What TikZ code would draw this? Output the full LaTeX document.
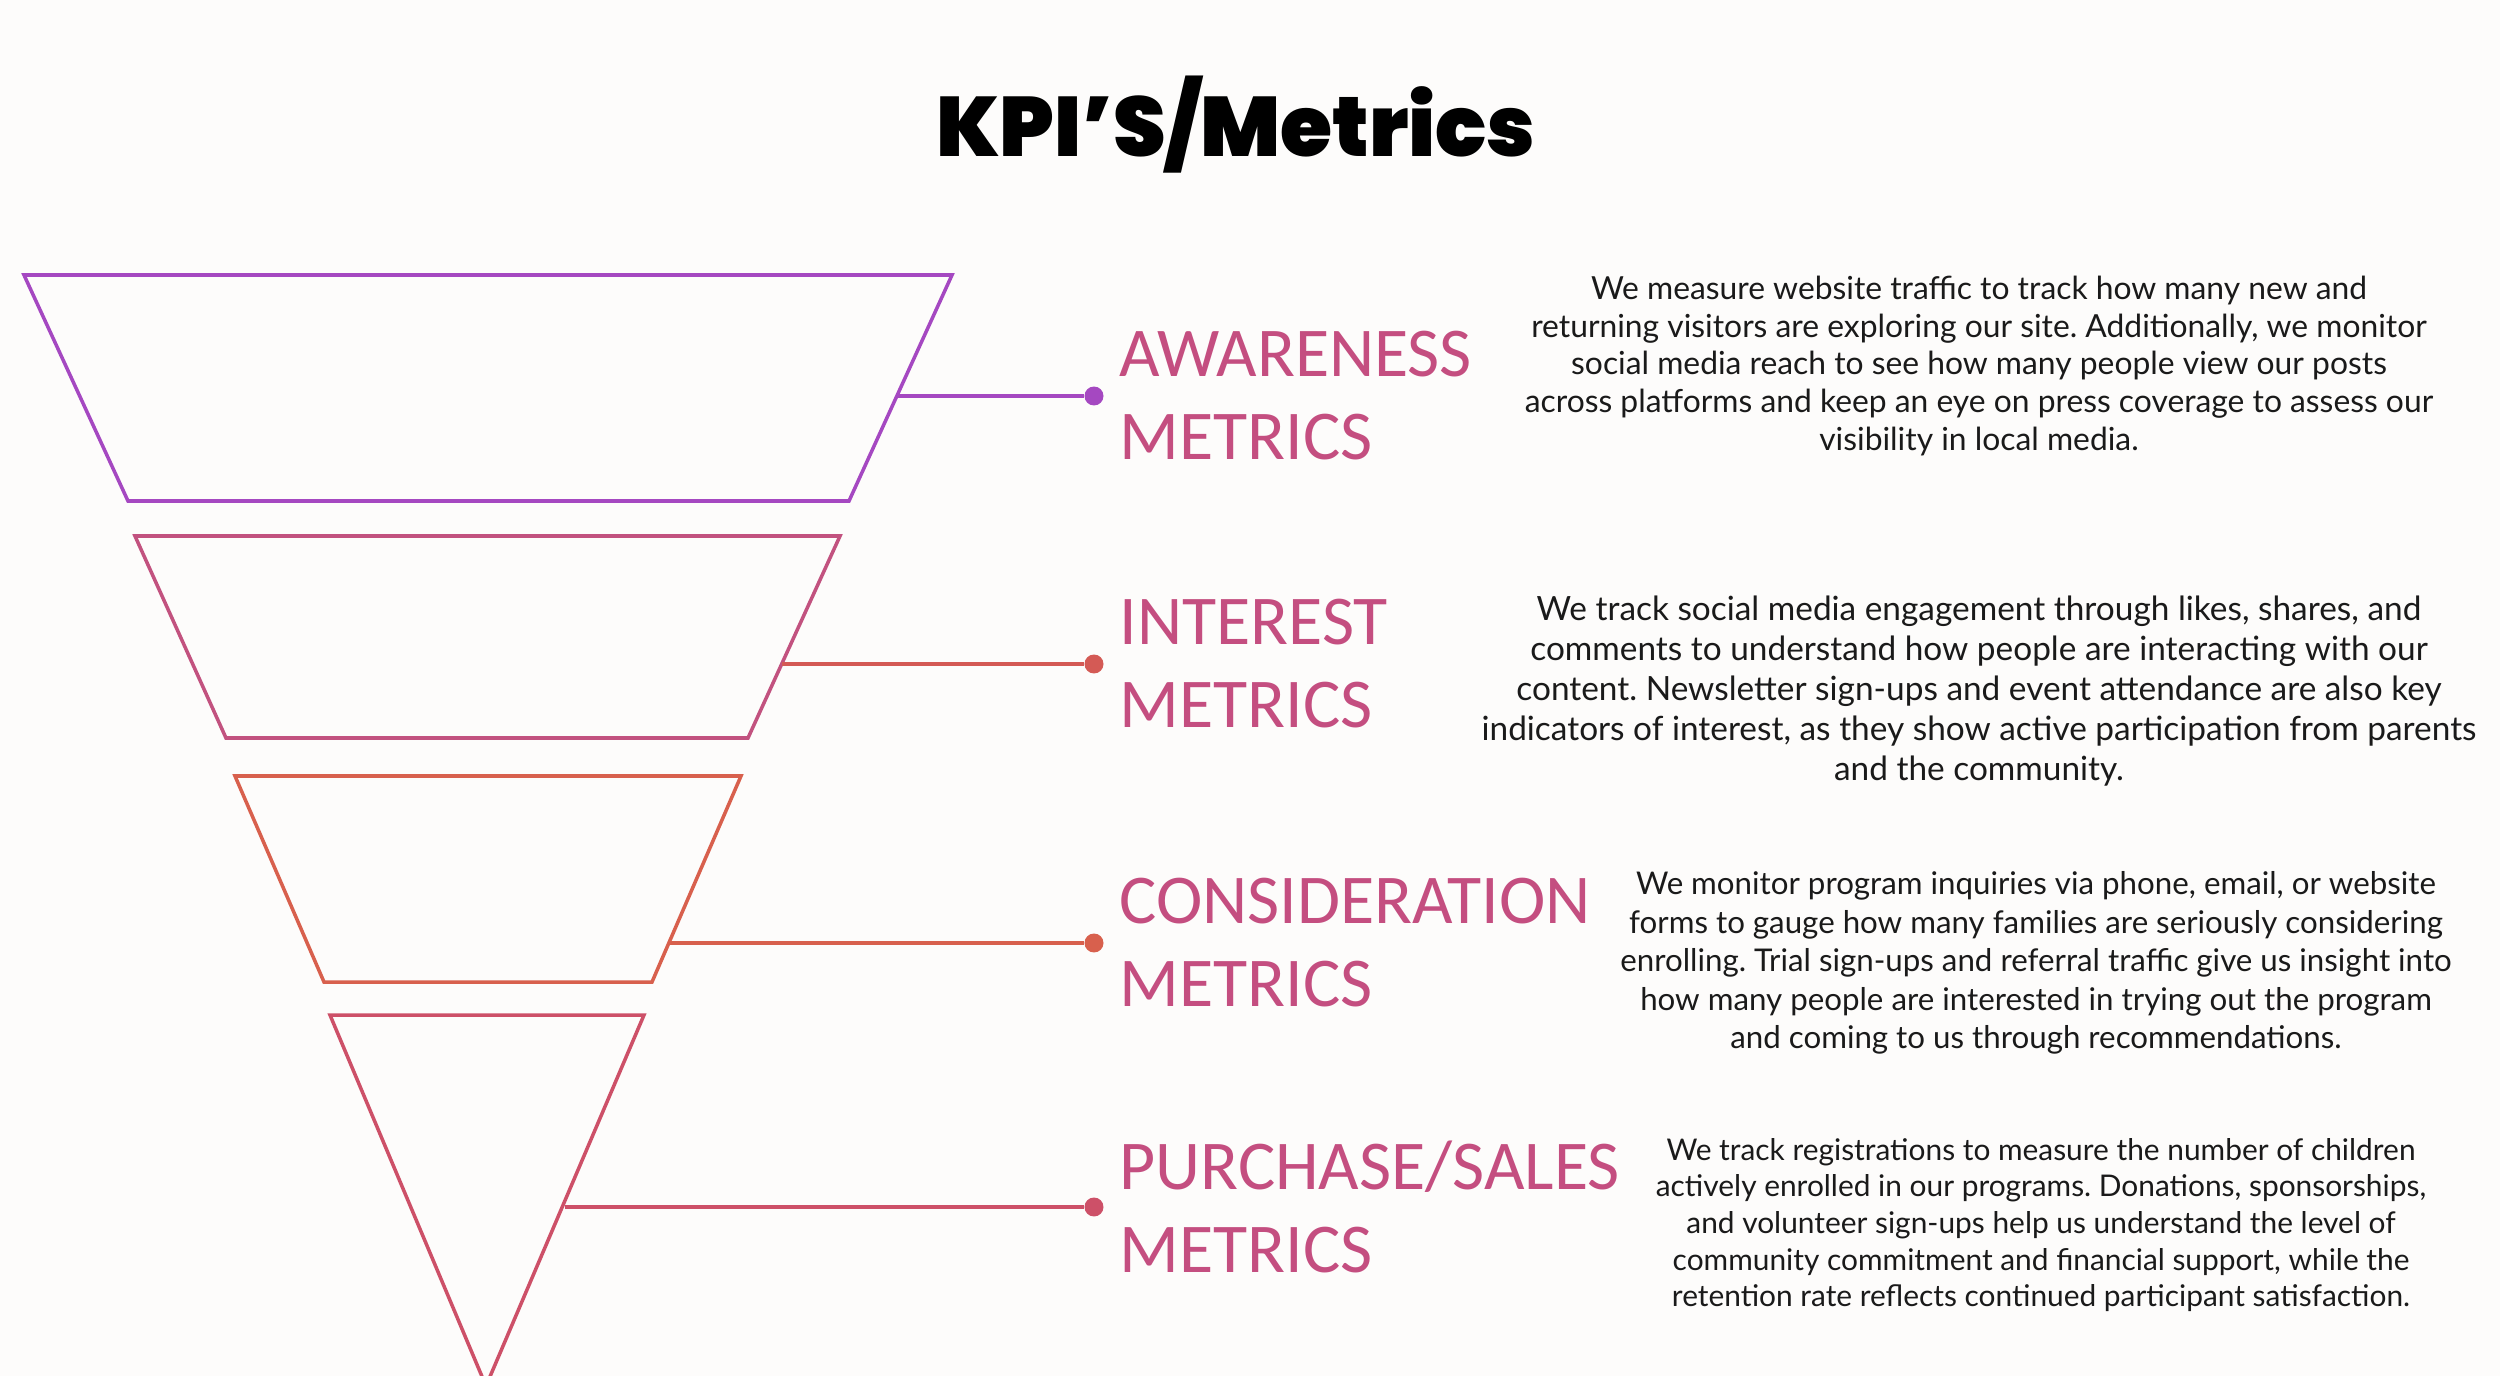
\documentclass[tikz,border=0pt]{standalone}
\usepackage{fontspec}
\usetikzlibrary{positioning}

\setmainfont{Lato}
\newfontfamily\labelfont{Carlito}
\newfontfamily\titlefont{Poppins Black}
\frenchspacing

\definecolor{bgcol}{HTML}{FDFCFB}
\definecolor{textcol}{HTML}{1A1A1A}
\definecolor{labelcol}{HTML}{C44E80}
\definecolor{awcol}{HTML}{A548C1}
\definecolor{intrapcol}{HTML}{C2527F}
\definecolor{incol}{HTML}{D45A55}
\definecolor{cocol}{HTML}{D8604D}
\definecolor{pucol}{HTML}{CD5068}

\begin{document}
\begin{tikzpicture}[x=0.1mm, y=-0.1mm,
    funnel/.style={line width=1pt, line join=miter},
    link/.style={line width=0.9pt},
    dot/.style={circle, fill, inner sep=0pt, minimum size=5.4pt},
    stage/.style={font=\labelfont\fontsize{19.9}{23.6}\selectfont, text=labelcol,
        align=left, inner sep=0pt, anchor=west},
    desc/.style={text=textcol, align=center, inner sep=0pt}]

    % page
    \fill[bgcol] (0,0) rectangle (2500,1376);
    \clip (0,0) rectangle (2500,1376);

    % title
    \node[font=\titlefont\fontsize{24}{28}\selectfont, anchor=base] (title)
        at (1236,157) {KPI’S/Metrics};

    % funnel pieces, widest on top
    \draw[funnel, awcol] (24,275) -- (952,275) -- (849,501) -- (128,501) -- cycle;
    \draw[funnel, intrapcol] (135,536) -- (840,536) -- (748,738) -- (226,738) -- cycle;
    \draw[funnel, cocol] (235,776) -- (741,776) -- (652,982) -- (324,982) -- cycle;
    \draw[funnel, pucol] (330,1015) -- (644,1015) -- (486,1386) -- cycle;

    % where each connector leaves the funnel
    \coordinate (aw-side) at (897,396);
    \coordinate (in-side) at (782,664);
    \coordinate (co-side) at (669,943);
    \coordinate (pu-side) at (565,1207);

    % dots
    \node[dot, awcol] (aw-dot) at (1094,396) {};
    \node[dot, incol] (in-dot) at (1094,664) {};
    \node[dot, cocol] (co-dot) at (1094,943) {};
    \node[dot, pucol] (pu-dot) at (1094,1207) {};

    \draw[link, awcol] (aw-side) -- (aw-dot);
    \draw[link, incol] (in-side) -- (in-dot);
    \draw[link, cocol] (co-side) -- (co-dot);
    \draw[link, pucol] (pu-side) -- (pu-dot);

    % stage names
    \node[stage, right=4.2pt of aw-dot] (aw-label) {AWARENESS\\METRICS};
    \node[stage, right=4.2pt of in-dot] (in-label) {INTEREST\\METRICS};
    \node[stage, right=4.2pt of co-dot] (co-label) {CONSIDERATION\\METRICS};
    \node[stage, right=4.2pt of pu-dot] (pu-label) {PURCHASE/SALES\\METRICS};

    % descriptions
    \node[desc, font=\fontsize{9.05}{10.8}\selectfont] (aw-text) at (1979,366)
        {We measure website traffic to track how many new and\\
        returning visitors are exploring our site. Additionally, we monitor\\
        social media reach to see how many people view our posts\\
        across platforms and keep an eye on press coverage to assess our\\
        visibility in local media.};
    \node[desc, font=\fontsize{9.5}{11.4}\selectfont] (in-text) at (1979,691)
        {We track social media engagement through likes, shares, and\\
        comments to understand how people are interacting with our\\
        content. Newsletter sign-ups and event attendance are also key\\
        indicators of interest, as they show active participation from parents\\
        and the community.};
    \node[desc, font=\fontsize{8.9}{11}\selectfont] (co-text) at (2036,963)
        {We monitor program inquiries via phone, email, or website\\
        forms to gauge how many families are seriously considering\\
        enrolling. Trial sign-ups and referral traffic give us insight into\\
        how many people are interested in trying out the program\\
        and coming to us through recommendations.};
    \node[desc, font=\fontsize{8.5}{10.4}\selectfont] (pu-text) at (2041,1225)
        {We track registrations to measure the number of children\\
        actively enrolled in our programs. Donations, sponsorships,\\
        and volunteer sign-ups help us understand the level of\\
        community commitment and financial support, while the\\
        retention rate reflects continued participant satisfaction.};
\end{tikzpicture}
\end{document}
